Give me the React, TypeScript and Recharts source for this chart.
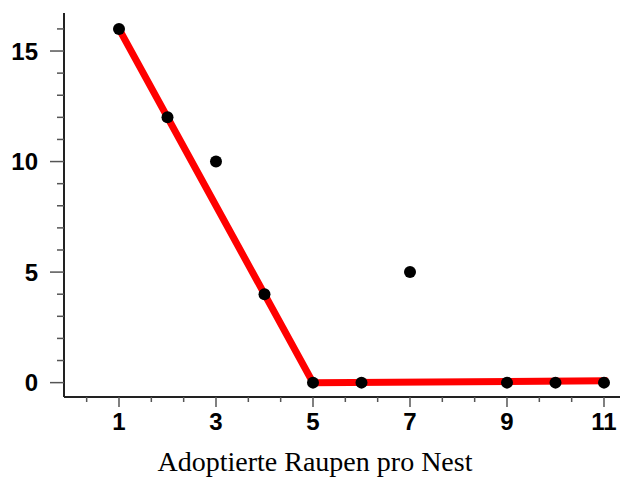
import { ComposedChart, Line, Scatter, XAxis, YAxis } from 'recharts';

// observed counts per nest
const nestSizes = [1, 2, 3, 4, 5, 6, 7, 9, 10, 11];
const adoptedCounts = [16, 12, 10, 4, 0, 0, 5, 0, 0, 0];

// broken-stick fit (red)
const fitX = [1, 5, 11];
const fitY = [16, 0, 0.08];

const xMajorTicks = [1, 3, 5, 7, 9, 11];
const yMajorTicks = [0, 5, 10, 15];
const yAllTicks = [0, 1, 2, 3, 4, 5, 6, 7, 8, 9, 10, 11, 12, 13, 14, 15, 16];
const xTitle = 'Adoptierte Raupen pro Nest';

const points = nestSizes.map((x, i) => ({ x, y: adoptedCounts[i] }));
const fit = fitX.map((x, i) => ({ x, y: fitY[i] }));
const xAllTicks = xMajorTicks
  .flatMap((m) => [m - 2 / 3, m, m + 2 / 3])
  .filter((v) => v > 0 && v < 11.2);

const tickFont = {
  fontFamily: '"Liberation Sans", Arial, sans-serif',
  fontWeight: 700,
  fontSize: 24,
  fill: '#000',
};

const isMajor = (list: number[], v: number) => list.some((m) => Math.abs(m - v) < 1e-6);

function YTick(props: any) {
  const { x, y, payload } = props;
  const major = isMajor(yMajorTicks, payload.value);
  return (
    <g>
      <line x1={x - (major ? 14 : 7)} x2={x} y1={y} y2={y} stroke="#555" strokeWidth={1.5} />
      {major && (
        <text x={x - 26} y={y} textAnchor="end" dominantBaseline="central" {...tickFont}>
          {payload.value}
        </text>
      )}
    </g>
  );
}

function XTick(props: any) {
  const { x, y, payload } = props;
  const major = isMajor(xMajorTicks, payload.value);
  return (
    <g>
      <line x1={x} x2={x} y1={y} y2={y + (major ? 10 : 5)} stroke="#555" strokeWidth={1.5} />
      {major && (
        <text x={x} y={y + 33} textAnchor="middle" {...tickFont}>
          {Math.round(payload.value)}
        </text>
      )}
    </g>
  );
}

function Dot(props: any) {
  return <circle cx={props.cx} cy={props.cy} r={6} fill="#000" />;
}

export default function App() {
  return (
    <div style={{ position: 'absolute', left: 0, top: 0 }}>
      <ComposedChart width={620} height={478} margin={{ top: 13, right: 0, bottom: 0, left: 0 }}>
        <XAxis
          xAxisId="top"
          orientation="top"
          type="number"
          dataKey="x"
          domain={[-0.134, 11.33]}
          height={0}
          tick={false}
          tickLine={false}
          axisLine={{ stroke: '#333', strokeWidth: 2 }}
        />
        <XAxis
          type="number"
          dataKey="x"
          domain={[-0.134, 11.33]}
          allowDataOverflow
          ticks={xAllTicks}
          interval={0}
          tick={<XTick />}
          tickSize={0}
          tickMargin={0}
          tickLine={false}
          height={81}
          axisLine={{ stroke: '#222', strokeWidth: 2 }}
          label={{
            content: (p: any) => {
              const vb = p.viewBox;
              return (
                <text
                  x={vb.x + vb.width / 2 - 27}
                  y={vb.y + vb.height - 7}
                  textAnchor="middle"
                  fontFamily='"Liberation Serif", "Times New Roman", serif'
                  fontSize={28}
                  fill="#000"
                >
                  {xTitle}
                </text>
              );
            },
          }}
        />
        <YAxis
          type="number"
          dataKey="y"
          domain={[-0.65, 16.72]}
          allowDataOverflow
          ticks={yAllTicks}
          interval={0}
          tick={<YTick />}
          tickSize={0}
          tickMargin={0}
          tickLine={false}
          width={64}
          axisLine={{ stroke: '#222', strokeWidth: 2 }}
        />
        <Line
          data={fit}
          dataKey="y"
          type="linear"
          stroke="#ff0000"
          strokeWidth={7}
          strokeLinecap="square"
          strokeLinejoin="miter"
          dot={false}
          activeDot={false}
          isAnimationActive={false}
        />
        <Scatter data={points} dataKey="y" shape={<Dot />} isAnimationActive={false} />
      </ComposedChart>
    </div>
  );
}
